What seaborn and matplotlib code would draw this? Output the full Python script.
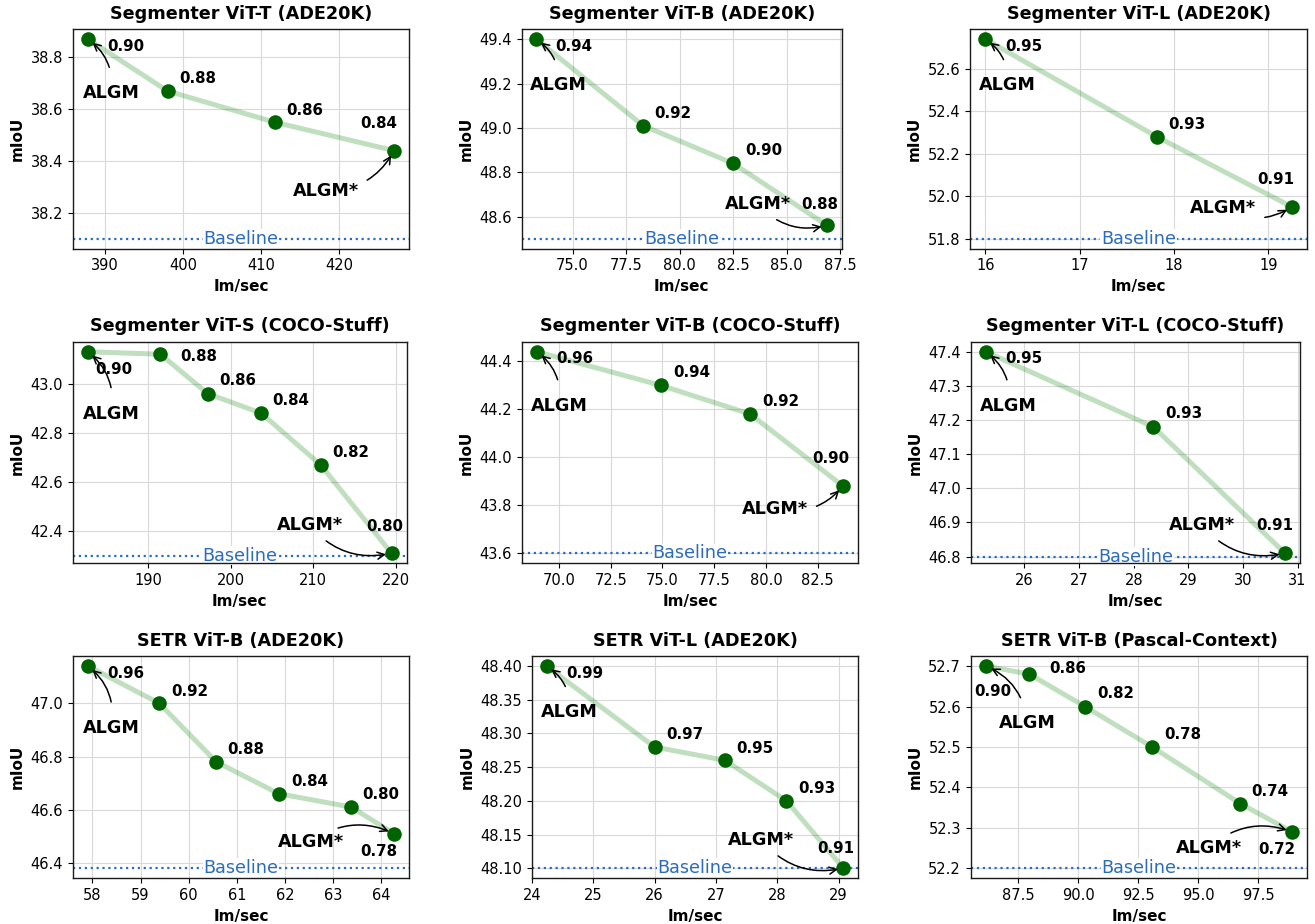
import matplotlib
matplotlib.use("Agg")
import matplotlib.pyplot as plt
import numpy as np
import pandas as pd
import seaborn as sns

# ---------------- data ----------------
titles = [
    "Segmenter ViT-T (ADE20K)", "Segmenter ViT-B (ADE20K)", "Segmenter ViT-L (ADE20K)",
    "Segmenter ViT-S (COCO-Stuff)", "Segmenter ViT-B (COCO-Stuff)", "Segmenter ViT-L (COCO-Stuff)",
    "SETR ViT-B (ADE20K)", "SETR ViT-L (ADE20K)", "SETR ViT-B (Pascal-Context)",
]

seg_t_ade_x = [387.8, 398.0, 411.7, 427.0]
seg_t_ade_y = [38.87, 38.67, 38.55, 38.44]
seg_t_ade_r = ["0.90", "0.88", "0.86", "0.84"]
seg_t_ade_base = 38.1

seg_b_ade_x = [73.3, 78.3, 82.5, 86.9]
seg_b_ade_y = [49.40, 49.01, 48.84, 48.56]
seg_b_ade_r = ["0.94", "0.92", "0.90", "0.88"]
seg_b_ade_base = 48.5

seg_l_ade_x = [16.0, 17.82, 19.25]
seg_l_ade_y = [52.74, 52.28, 51.95]
seg_l_ade_r = ["0.95", "0.93", "0.91"]
seg_l_ade_base = 51.8

seg_s_coco_x = [182.7, 191.5, 197.2, 203.7, 210.9, 219.5]
seg_s_coco_y = [43.13, 43.12, 42.96, 42.88, 42.67, 42.31]
seg_s_coco_r = ["0.90", "0.88", "0.86", "0.84", "0.82", "0.80"]
seg_s_coco_base = 42.3

seg_b_coco_x = [68.94, 74.92, 79.24, 83.72]
seg_b_coco_y = [44.44, 44.30, 44.18, 43.88]
seg_b_coco_r = ["0.96", "0.94", "0.92", "0.90"]
seg_b_coco_base = 43.6

seg_l_coco_x = [25.29, 28.36, 30.77]
seg_l_coco_y = [47.40, 47.18, 46.81]
seg_l_coco_r = ["0.95", "0.93", "0.91"]
seg_l_coco_base = 46.8

setr_b_ade_x = [57.91, 59.39, 60.57, 61.87, 63.37, 64.26]
setr_b_ade_y = [47.14, 47.00, 46.78, 46.66, 46.61, 46.51]
setr_b_ade_r = ["0.96", "0.92", "0.88", "0.84", "0.80", "0.78"]
setr_b_ade_base = 46.38

setr_l_ade_x = [24.24, 26.0, 27.15, 28.15, 29.08]
setr_l_ade_y = [48.40, 48.28, 48.26, 48.20, 48.10]
setr_l_ade_r = ["0.99", "0.97", "0.95", "0.93", "0.91"]
setr_l_ade_base = 48.10

setr_b_pc_x = [86.15, 87.96, 90.28, 93.08, 96.76, 98.92]
setr_b_pc_y = [52.70, 52.68, 52.60, 52.50, 52.36, 52.29]
setr_b_pc_r = ["0.90", "0.86", "0.82", "0.78", "0.74", "0.72"]
setr_b_pc_base = 52.2

panels = [
    (seg_t_ade_x, seg_t_ade_y, seg_t_ade_r, seg_t_ade_base),
    (seg_b_ade_x, seg_b_ade_y, seg_b_ade_r, seg_b_ade_base),
    (seg_l_ade_x, seg_l_ade_y, seg_l_ade_r, seg_l_ade_base),
    (seg_s_coco_x, seg_s_coco_y, seg_s_coco_r, seg_s_coco_base),
    (seg_b_coco_x, seg_b_coco_y, seg_b_coco_r, seg_b_coco_base),
    (seg_l_coco_x, seg_l_coco_y, seg_l_coco_r, seg_l_coco_base),
    (setr_b_ade_x, setr_b_ade_y, setr_b_ade_r, setr_b_ade_base),
    (setr_l_ade_x, setr_l_ade_y, setr_l_ade_r, setr_l_ade_base),
    (setr_b_pc_x, setr_b_pc_y, setr_b_pc_r, setr_b_pc_base),
]

# ---------------- layout / style ----------------
W, H = 1315, 924
# axes boxes in pixels: left, top, right, bottom
boxes = [
    (72.7, 29.3, 409.3, 248.7), (521.7, 29.3, 841.7, 248.7), (970.0, 29.3, 1307.3, 248.7),
    (72.7, 341.7, 406.7, 563.3), (521.7, 341.7, 858.3, 563.3), (970.7, 341.7, 1300.0, 563.3),
    (72.7, 656.0, 409.3, 878.3), (531.7, 656.0, 858.3, 878.3), (970.7, 656.0, 1307.3, 878.3),
]
# value label offsets (pixels, centre of text, y up)
label_offsets = [
    [(38, -7), (30, 13), (30, 12), (-15, 27)],
    [(38, -7), (30, 12), (31, 12.5), (-7, 20.7)],
    [(38, -7), (30, 12), (-16, 27.6)],
    [(26, -17.8), (38, -2.5), (30, 12.6), (30, 12.7), (30, 12.2), (-7, 26.8)],
    [(38, -7), (30.6, 12.7), (30.3, 12.9), (-12, 28)],
    [(38, -7), (30, 13), (-10, 27.5)],
    [(38, -7), (30, 12.3), (30, 12.5), (30.7, 12), (30, 12.2), (-15, -18)],
    [(38, -7), (30.3, 12.3), (30, 12.3), (30, 12.7), (-7.3, 19.7)],
    [(7, -25), (38, 5.5), (30.6, 12.8), (30.3, 12.8), (30, 12.5), (-15, -17.3)],
]
algm_offsets = [(23, -54), (22, -46), (22, -46), (23, -62), (22, -54), (23, -54),
                (23, -62), (23, -46), (41, -57)]
algm_star_offsets = [(-68, -40), (-69, 21), (-69, -1.5), (-82, 28), (-68, -23), (-83, 28),
                     (-83, -8.5), (-82, 28), (-83, -16)]
algm_star_rad = [0.3, 0.3, 0.3, 0.3, 0.3, 0.3, -0.3, 0.3, -0.3]

sns.set_style("whitegrid", {
    "axes.edgecolor": "0.1",
    "xtick.bottom": True,
    "ytick.left": True,
    "grid.color": "0.85",
    "xtick.color": "black",
    "ytick.color": "black",
    "text.color": "black",
    "axes.labelcolor": "black",
})
plt.rcParams["font.family"] = ["DejaVu Sans"]

fig = plt.figure(figsize=(W / 100, H / 100), dpi=100)

base_color = "#2b6cbf"
for i, (xs, ys, rs, base) in enumerate(panels):
    l, t, r, b = boxes[i]
    ax = fig.add_axes([l / W, 1 - b / H, (r - l) / W, (b - t) / H])
    df = pd.DataFrame({"x": xs, "y": ys})
    sns.lineplot(data=df, x="x", y="y", ax=ax, color="green", alpha=0.25,
                 linewidth=3.6, sort=False, zorder=2)
    sns.scatterplot(data=df, x="x", y="y", ax=ax, color="darkgreen", s=110,
                    linewidth=0, zorder=3)
    ax.axhline(base, color=base_color, linestyle=":", linewidth=1.6, zorder=1)
    ax.text(0.5, base, "Baseline", transform=ax.get_yaxis_transform(),
            ha="center", va="center", color=base_color, fontsize=12.7,
            bbox=dict(facecolor="white", edgecolor="none", pad=0.5), zorder=2)
    for (xv, yv, lab, off) in zip(xs, ys, rs, label_offsets[i]):
        ax.annotate(lab, xy=(xv, yv), xytext=off, textcoords="offset pixels",
                    ha="center", va="center", fontsize=10.8, fontweight="bold",
                    color="black", zorder=4)
    ax.annotate("ALGM", xy=(xs[0], ys[0]), xytext=algm_offsets[i],
                textcoords="offset pixels", ha="center", va="center",
                fontsize=12.7, fontweight="bold", color="black", zorder=4,
                arrowprops=dict(arrowstyle="->", color="black", lw=1.1,
                                connectionstyle="arc3,rad=0.3", shrinkA=10, shrinkB=4))
    ax.annotate("ALGM*", xy=(xs[-1], ys[-1]), xytext=algm_star_offsets[i],
                textcoords="offset pixels", ha="center", va="center",
                fontsize=12.7, fontweight="bold", color="black", zorder=4,
                arrowprops=dict(arrowstyle="->", color="black", lw=1.1,
                                connectionstyle=f"arc3,rad={algm_star_rad[i]}",
                                shrinkA=4, shrinkB=4))
    ax.set_title(titles[i], fontsize=12.7, fontweight="bold", pad=7.5, color="black")
    ax.set_xlabel("Im/sec", fontsize=11, fontweight="bold")
    ax.set_ylabel("mIoU", fontsize=11, fontweight="bold")
    ax.tick_params(labelsize=10.5, length=3.5, width=0.8, colors="black")
    for sp in ax.spines.values():
        sp.set_linewidth(1.0)
        sp.set_color("0.1")

fig.savefig("out.png", dpi=100)
